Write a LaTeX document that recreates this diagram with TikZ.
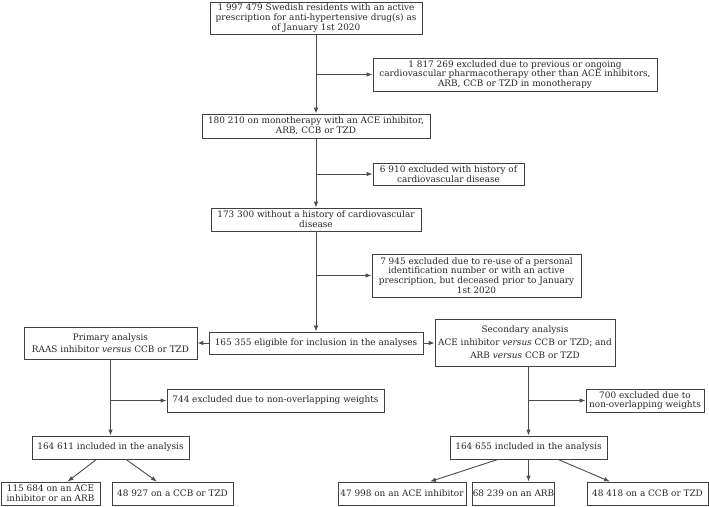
\documentclass[tikz,border=0pt]{standalone}
\usepackage{fontspec}
\setmainfont{DejaVu Serif}
\usetikzlibrary{arrows.meta}

\begin{document}
\begin{tikzpicture}[x=1pt, y=-1pt,
		box/.style={draw=black!75, line width=0.8pt, text=black!85, align=center, inner sep=0pt, font=\fontsize{8.9}{9.7}\selectfont},
		arr/.style={draw=black!70, line width=0.9pt, -{Latex[length=6pt,width=4.5pt]}}]
		\useasboundingbox (0,0) rectangle (709,506);
		\node (top) [box, minimum width=212pt, minimum height=32pt] at (316,18) {1 997 479 Swedish residents with an active\\prescription for anti-hypertensive drug(s) as\\of January 1st 2020};
		\node (exclA) [box, minimum width=284pt, minimum height=33pt] at (515,74.5) {1 817 269 excluded due to previous or ongoing\\cardiovascular pharmacotherapy other than ACE inhibitors,\\ARB, CCB or TZD in monotherapy};
		\node (mono) [box, minimum width=228pt, minimum height=24pt] at (316,126) {180 210 on monotherapy with an ACE inhibitor,\\ARB, CCB or TZD};
		\node (exclB) [box, minimum width=151pt, minimum height=22pt] at (448.5,174) {6 910 excluded with history of\\cardiovascular disease};
		\node (nocvd) [box, minimum width=210pt, minimum height=23pt] at (316,219.5) {173 300 without a history of cardiovascular\\disease};
		\node (exclC) [box, minimum width=209pt, minimum height=43pt] at (476.5,275.5) {7 945 excluded due to re-use of a personal\\identification number or with an active\\prescription, but deceased prior to January\\1st 2020};
		\node (elig) [box, minimum width=214pt, minimum height=22pt] at (316,343) {165 355 eligible for inclusion in the analyses};
		\node (prim) [box, minimum width=173pt, minimum height=32pt] at (110.5,343) {Primary analysis\\[2.3pt]RAAS inhibitor \textit{versus} CCB or TZD};
		\node (sec) [box, minimum width=180pt, minimum height=47pt] at (525,342.5) {Secondary analysis\\[3.3pt]ACE inhibitor \textit{versus} CCB or TZD; and\\[3.3pt]ARB \textit{versus} CCB or TZD};
		\node (exclP) [box, minimum width=217pt, minimum height=23pt] at (275.5,400.5) {744 excluded due to non-overlapping weights};
		\node (exclS) [box, minimum width=118pt, minimum height=23pt] at (645,400.5) {700 excluded due to\\non-overlapping weights};
		\node (inclP) [box, minimum width=157pt, minimum height=23pt] at (110.5,447.5) {164 611 included in the analysis};
		\node (inclS) [box, minimum width=157pt, minimum height=23pt] at (528.5,447.5) {164 655 included in the analysis};
		\node (raas) [box, minimum width=99pt, minimum height=23pt] at (50.5,493.5) {115 684 on an ACE\\inhibitor or an ARB};
		\node (ccbP) [box, minimum width=121pt, minimum height=23pt] at (172.5,493.5) {48 927 on a CCB or TZD};
		\node (ace) [box, minimum width=128pt, minimum height=23pt] at (402,493.5) {47 998 on an ACE inhibitor};
		\node (arb) [box, minimum width=61pt, minimum height=23pt] at (513.5,493.5) {68 239 on an ARB};
		\node (ccbS) [box, minimum width=121pt, minimum height=23pt] at (647.5,493.5) {48 418 on a CCB or TZD};

		\draw [arr] (top) -- (mono);
		\draw [arr] (mono) -- (nocvd);
		\draw [arr] (nocvd) -- (elig);
		\draw [arr] (top.south |- exclA.west) -- (exclA.west);
		\draw [arr] (mono.south |- exclB.west) -- (exclB.west);
		\draw [arr] (nocvd.south |- exclC.west) -- (exclC.west);
		\draw [arr] (elig.west) -- (prim.east |- elig.west);
		\draw [arr] (elig.east) -- (sec.west |- elig.east);
		\draw [arr] (prim.south) -- (inclP.north);
		\draw [arr] (prim.south |- exclP.west) -- (exclP.west);
		\draw [arr] (sec.south -| inclS.north) -- (inclS.north);
		\draw [arr] (inclS.north |- exclS.west) -- (exclS.west);
		\draw [arr] ([xshift=-14pt]inclP.south) -- ([xshift=17pt]raas.north);
		\draw [arr] ([xshift=15.5pt]inclP.south) -- ([xshift=-15.5pt]ccbP.north);
		\draw [arr] ([xshift=-30.5pt]inclS.south) -- ([xshift=28pt]ace.north);
		\draw [arr] (inclS.south) -- (inclS.south |- arb.north);
		\draw [arr] ([xshift=29.5pt]inclS.south) -- ([xshift=-37.5pt]ccbS.north);
	\end{tikzpicture}
\end{document}
